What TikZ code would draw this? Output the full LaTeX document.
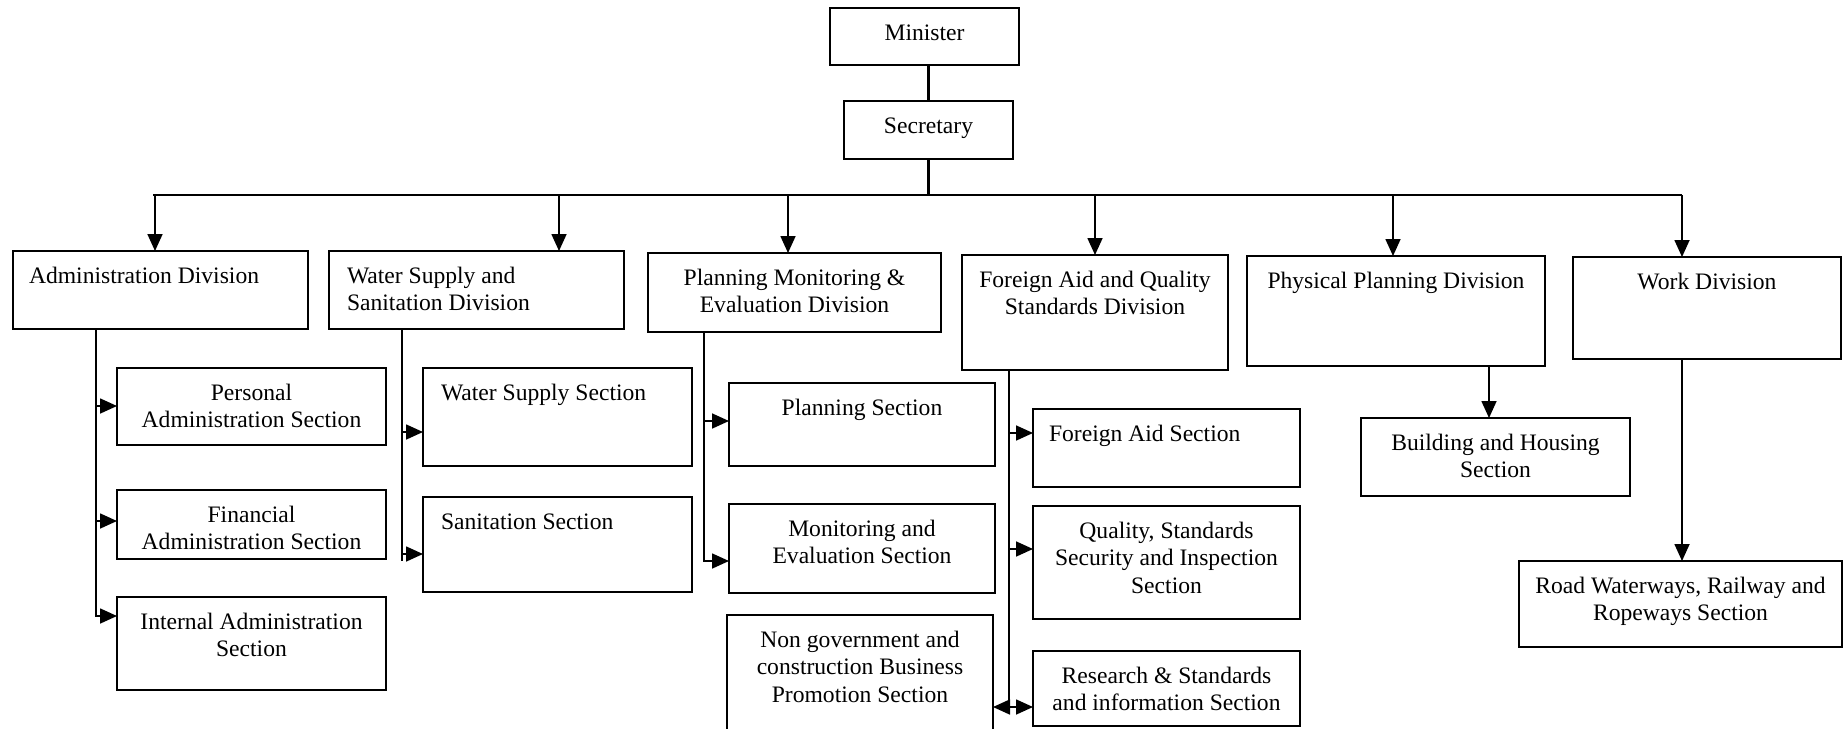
\documentclass[tikz,border=0pt]{standalone}
\usepackage{fontspec}
\setmainfont{Liberation Serif}
\usetikzlibrary{arrows.meta}
% box text: width, height, alignment, text (top aligned, first baseline 32pt down)
\newcommand\orgfont{\fontsize{23.6}{27.8}\selectfont}
\newcommand\orgtext[4]{\parbox[c][#2pt][t]{#1pt}{#3\rule{0pt}{32pt}#4}}
\newcommand\orgctr{\centering}
\newcommand\orglft[1]{\raggedright\leftskip=#1pt\relax}
\begin{document}
\begin{tikzpicture}[x=1pt,y=-1pt,
  orgbox/.style={draw, line width=1.7pt, inner sep=0pt, outer sep=0pt, anchor=north west, font=\orgfont},
  conn/.style={line width=1.7pt},
  arr/.style={line width=1.7pt, -{Triangle[length=17pt,width=15pt]}}]
\useasboundingbox (0,0) rectangle (1844,728);

% top level
\node[orgbox] (min) at (830,8)   {\orgtext{189}{57}{\orgctr}{Minister}};
\node[orgbox] (sec) at (844,101) {\orgtext{169}{58}{\orgctr}{Secretary}};

% divisions
\node[orgbox] (admin) at (13,251)   {\orgtext{295}{78}{\orglft{16}}{Administration Division}};
\node[orgbox] (wss)   at (329,251)  {\orgtext{295}{78}{\orglft{18}}{Water Supply and\\Sanitation Division}};
\node[orgbox] (pme)   at (648,253)  {\orgtext{293}{79}{\orgctr}{Planning Monitoring \&\\Evaluation Division}};
\node[orgbox] (faq)   at (962,255)  {\orgtext{266}{115}{\orgctr}{Foreign Aid and Quality\\Standards Division}};
\node[orgbox] (phys)  at (1247,256) {\orgtext{298}{110}{\orgctr}{Physical Planning Division}};
\node[orgbox] (work)  at (1573,257) {\orgtext{268}{102}{\orgctr}{Work Division}};

% sections
\node[orgbox] (pers) at (117,368) {\orgtext{269}{77}{\orgctr}{Personal\\Administration Section}};
\node[orgbox] (fin)  at (117,490) {\orgtext{269}{69}{\orgctr}{Financial\\Administration Section}};
\node[orgbox] (intl) at (117,597) {\orgtext{269}{93}{\orgctr}{Internal Administration\\Section}};
\node[orgbox] (ws)   at (423,368) {\orgtext{269}{98}{\orglft{18}}{Water Supply Section}};
\node[orgbox] (san)  at (423,497) {\orgtext{269}{95}{\orglft{18}}{Sanitation Section}};
\node[orgbox] (plan) at (729,383) {\orgtext{266}{83}{\orgctr}{Planning Section}};
\node[orgbox] (mon)  at (729,504) {\orgtext{266}{89}{\orgctr}{Monitoring and\\Evaluation Section}};
\node[orgbox] (ngo)  at (727,615) {\orgtext{266}{130}{\orgctr}{Non government and\\construction Business\\Promotion Section}};
\node[orgbox] (fa)   at (1033,409) {\orgtext{267}{78}{\orglft{16}}{Foreign Aid Section}};
\node[orgbox] (qual) at (1033,506) {\orgtext{267}{113}{\orgctr}{Quality, Standards\\Security and Inspection\\Section}};
\node[orgbox] (res)  at (1033,651) {\orgtext{267}{75}{\orgctr}{Research \& Standards\\and information Section}};
\node[orgbox] (bh)   at (1361,418) {\orgtext{269}{78}{\orgctr}{Building and Housing\\Section}};
\node[orgbox] (road) at (1519,561) {\orgtext{323}{86}{\orgctr}{Road Waterways, Railway and\\Ropeways Section}};

% minister to secretary, secretary to the bus
\draw[line width=3.2pt] (sec.north |- min.south) -- (sec.north);
\coordinate (busL) at (153,195);
\coordinate (busR) at (1682,195);
\draw[line width=2.6pt] (sec.south) -- (sec.south |- busL);
\draw[line width=2.4pt] (busL) -- (busR);

% bus branches to divisions
\coordinate (bA) at (155,195);
\coordinate (bW) at (559,195);
\coordinate (bP) at (788,195);
\coordinate (bF) at (1095,195);
\coordinate (bY) at (1393,195);
\coordinate (bK) at (1682,195);
\draw[arr] (bA) -- (bA |- admin.north);
\draw[arr] (bW) -- (bW |- wss.north);
\draw[arr] (bP) -- (bP |- pme.north);
\draw[arr] (bF) -- (bF |- faq.north);
\draw[arr] (bY) -- (bY |- phys.north);
\draw[arr] (bK) -- (bK |- work.north);

% administration division
\coordinate (adT) at (96,329);
\coordinate (ad1) at (96,406);
\coordinate (ad2) at (96,521);
\coordinate (ad3) at (96,616);
\draw[arr] (adT) |- (ad3 -| intl.west);
\draw[arr] (ad1) -- (ad1 -| pers.west);
\draw[arr] (ad2) -- (ad2 -| fin.west);

% water supply and sanitation division
\coordinate (wsT) at (402,329);
\coordinate (ws1) at (402,432);
\coordinate (ws2) at (402,554);
\coordinate (wsB) at (402,561);
\draw[conn] (wsT) -- (wsB);
\draw[arr] (ws1) -- (ws1 -| ws.west);
\draw[arr] (ws2) -- (ws2 -| san.west);

% planning monitoring and evaluation division
\coordinate (pmT) at (704,333);
\coordinate (pm1) at (704,421);
\coordinate (pm2) at (704,561);
\draw[arr] (pmT) |- (pm2 -| mon.west);
\draw[arr] (pm1) -- (pm1 -| plan.west);

% foreign aid and quality standards division
\coordinate (fqT) at (1009,370);
\coordinate (fq1) at (1009,433);
\coordinate (fq2) at (1009,549);
\coordinate (fq3) at (1009,707);
\draw[conn] (fqT) -- (fq3);
\draw[arr] (fq1) -- (fq1 -| fa.west);
\draw[arr] (fq2) -- (fq2 -| qual.west);
\draw[arr] (fq3) -- (fq3 -| res.west);
\draw[arr] (fq3) -- (fq3 -| ngo.east);

% physical planning and work divisions
\coordinate (phB) at (1489,366);
\draw[arr] (phB) -- (phB |- bh.north);
\coordinate (wkB) at (1682,359);
\draw[arr] (wkB) -- (wkB |- road.north);
\end{tikzpicture}
\end{document}
